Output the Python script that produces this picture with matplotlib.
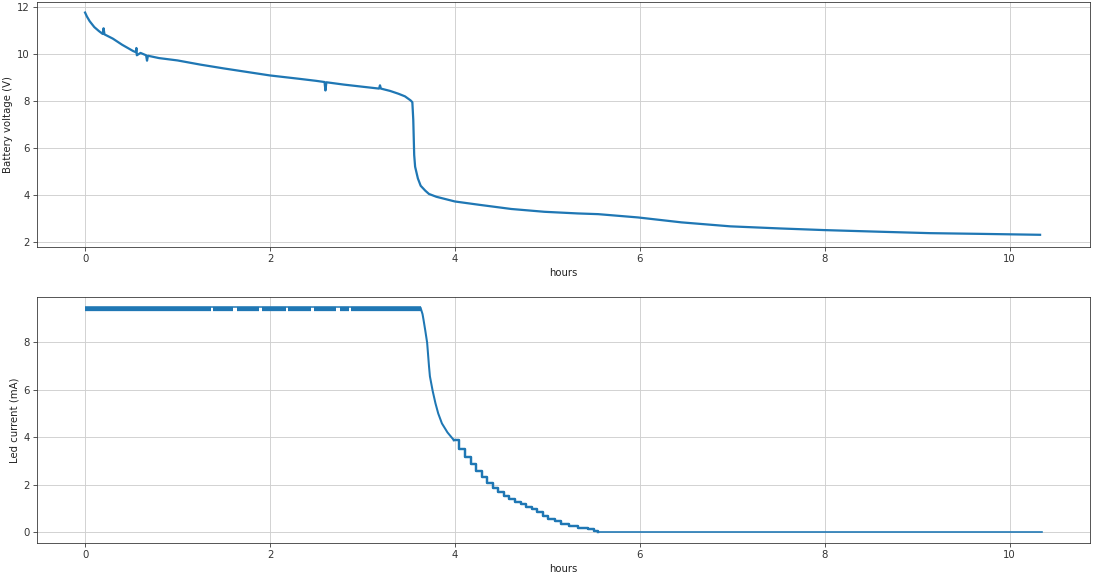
import matplotlib
matplotlib.use("Agg")
import matplotlib.pyplot as plt
import numpy as np

# Battery voltage (V) vs hours
volt_t = [0.00, 0.02, 0.05, 0.10, 0.15, 0.19, 0.20, 0.21, 0.30, 0.40, 0.52, 0.55, 0.555, 0.56, 0.60, 0.66, 0.67,
          0.68, 0.80, 1.00, 1.25, 1.50, 1.75, 2.00, 2.31, 2.50, 2.59, 2.60, 2.61, 2.80, 3.00, 3.18,
          3.19, 3.20, 3.30, 3.39, 3.46, 3.52, 3.54, 3.55, 3.56, 3.57, 3.60, 3.63, 3.68, 3.72, 3.80,
          3.90, 4.00, 4.26, 4.61, 4.97, 5.33, 5.55, 5.98, 6.45, 6.98, 7.52, 8.00, 8.60, 9.14, 9.68, 10.33]
volt_v = [11.77, 11.60, 11.40, 11.15, 10.98, 10.86, 11.10, 10.84, 10.66, 10.40, 10.13, 10.08, 10.26, 9.95, 10.05, 9.95, 9.72,
          9.93, 9.83, 9.73, 9.55, 9.39, 9.24, 9.09, 8.95, 8.86, 8.81, 8.45, 8.80, 8.70, 8.61, 8.53,
          8.67, 8.53, 8.43, 8.31, 8.20, 8.03, 7.95, 7.20, 5.70, 5.20, 4.70, 4.39, 4.18, 4.04, 3.92,
          3.82, 3.72, 3.58, 3.40, 3.28, 3.21, 3.18, 3.04, 2.83, 2.66, 2.57, 2.50, 2.43, 2.37, 2.34, 2.30]

# Led current (mA): flat plateau segments (start, end) and decay
plateau_level = 9.42
plateau_top = 9.50
plateau_start = [0.00, 1.38, 1.648, 1.918, 2.192, 2.476, 2.753, 2.875]
plateau_end = [1.36, 1.595, 1.882, 2.170, 2.447, 2.716, 2.853, 3.630]

# smooth upper part of the decay
cur_t_fast = [3.63, 3.65, 3.66, 3.68, 3.70, 3.72, 3.73, 3.76, 3.79, 3.82, 3.86, 3.92, 3.99]
cur_i_fast = [9.45, 9.20, 8.98, 8.50, 7.99, 7.00, 6.57, 5.95, 5.43, 5.00, 4.58, 4.20, 3.87]
# quantised (stepped) lower part of the decay
cur_t_slow = [3.99, 4.05, 4.11, 4.17, 4.23, 4.29, 4.35, 4.41, 4.47, 4.53, 4.59, 4.65, 4.71, 4.77,
              4.83, 4.89, 4.95, 5.01, 5.08, 5.15, 5.23, 5.33, 5.44, 5.51, 5.55]
cur_i_slow = [3.87, 3.50, 3.16, 2.85, 2.58, 2.31, 2.08, 1.87, 1.67, 1.53, 1.40, 1.28, 1.17, 1.07,
              0.97, 0.83, 0.68, 0.54, 0.45, 0.35, 0.26, 0.18, 0.11, 0.04, 0.00]
tail_t = [5.55, 10.35]
tail_i = [0.0, 0.0]

W, H = 1097, 588
dpi = W / 15.0
fig = plt.figure(figsize=(15, H / dpi), dpi=dpi)
color = "#1f77b4"
grid_kw = dict(color="#cfcfcf", linewidth=0.9)
spine_col = "#333333"

ax1 = fig.add_axes([37 / W, 1 - 247 / H, (1090 - 37) / W, (247 - 2) / H])
ax1.plot(volt_t, volt_v, color=color, lw=2.2)
ax1.set_xlabel("hours", color="#222222")
ax1.set_ylabel("Battery voltage (V)", color="#222222")
ax1.grid(True, **grid_kw)
ax1.set_xlim(-0.52, 10.87)
ax1.set_ylim(1.78, 12.22)

ax2 = fig.add_axes([37 / W, 1 - 543 / H, (1090 - 37) / W, (543 - 297) / H])
ax2.hlines(plateau_top, plateau_start[0], plateau_end[-1], color=color, lw=1.5)
ax2.hlines([plateau_level] * len(plateau_start), plateau_start, plateau_end, color=color, lw=4.2)
ax2.plot(cur_t_fast, cur_i_fast, color=color, lw=2.0)
ax2.plot(cur_t_slow, cur_i_slow, color=color, lw=2.4, drawstyle="steps-post")
ax2.plot(tail_t, tail_i, color=color, lw=1.6)
ax2.set_xlabel("hours", color="#222222")
ax2.set_ylabel("Led current (mA)", color="#222222")
ax2.grid(True, **grid_kw)
ax2.set_xlim(-0.52, 10.87)
ax2.set_ylim(-0.47, 9.92)

for ax in (ax1, ax2):
    for s in ax.spines.values():
        s.set_color(spine_col)
    ax.tick_params(colors="#333333")

fig.savefig("out.png", dpi=dpi)
